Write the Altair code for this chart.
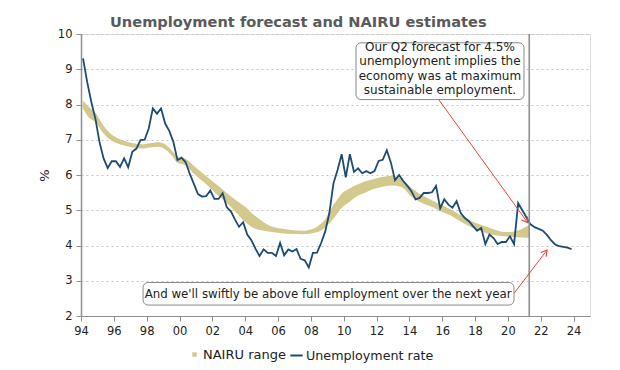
import altair as alt
import pandas as pd

# ---------------- data ----------------
unemployment = [
    9.31, 8.64, 8.08, 7.60, 6.94, 6.47, 6.20, 6.39, 6.39, 6.23,
    6.47, 6.22, 6.66, 6.75, 6.99, 7.00, 7.32, 7.89, 7.74, 7.89,
    7.46, 7.25, 6.94, 6.42, 6.49, 6.36, 6.03, 5.75, 5.46, 5.39,
    5.40, 5.56, 5.32, 5.32, 5.48, 5.09, 4.97, 4.74, 4.53, 4.66,
    4.31, 4.15, 3.91, 3.70, 3.89, 3.79, 3.79, 3.70, 4.07, 3.72,
    3.89, 3.83, 3.90, 3.62, 3.58, 3.38, 3.79, 3.80, 4.07, 4.40,
    4.92, 5.76, 6.14, 6.59, 5.93, 6.59, 6.09, 6.19, 6.05, 6.11,
    6.05, 6.11, 6.40, 6.43, 6.70, 6.35, 5.85, 6.00, 5.83, 5.69,
    5.54, 5.31, 5.35, 5.49, 5.49, 5.51, 5.69, 5.05, 5.31, 5.16,
    5.07, 5.26, 4.92, 4.78, 4.69, 4.55, 4.42, 4.50, 4.04, 4.31,
    4.21, 4.04, 4.10, 4.10, 4.26, 4.04, 5.20, 5.00, 4.80, 4.60,
    4.52, 4.47, 4.42, 4.30, 4.15, 4.03, 3.98, 3.96, 3.94, 3.90,
]

band_year = [
    1994.1, 1994.5, 1994.9, 1995.3, 1995.7, 1996.2, 1996.7, 1997.2, 1997.7, 1998.2,
    1998.7, 1999.1, 1999.5, 1999.9, 2000.35, 2000.9, 2001.6, 2002.2, 2002.8, 2003.4,
    2004.0, 2004.5, 2005.0, 2005.6, 2006.2, 2006.8, 2007.5, 2008.1, 2008.6, 2008.9,
    2009.3, 2009.6, 2009.9, 2010.3, 2010.8, 2011.3, 2011.8, 2012.3, 2012.9, 2013.5,
    2014.2, 2014.8, 2015.4, 2016.0, 2016.6, 2017.2, 2017.8, 2018.4, 2019.0, 2019.8,
    2020.4, 2020.9, 2021.3,
]
band_low = [
    7.90, 7.62, 7.50, 7.22, 7.03, 6.90, 6.83, 6.78, 6.75, 6.78,
    6.80, 6.74, 6.57, 6.34, 6.28, 6.02, 5.75, 5.48, 5.24, 4.96,
    4.67, 4.50, 4.43, 4.38, 4.35, 4.33, 4.32, 4.35, 4.42, 4.52,
    4.72, 4.90, 5.08, 5.22, 5.40, 5.50, 5.60, 5.66, 5.70, 5.66,
    5.36, 5.20, 5.09, 4.95, 4.83, 4.66, 4.51, 4.40, 4.31, 4.26,
    4.24, 4.23, 4.22,
]
band_high = [
    8.12, 7.92, 7.75, 7.45, 7.22, 7.05, 6.96, 6.90, 6.87, 6.90,
    6.93, 6.88, 6.71, 6.52, 6.47, 6.25, 5.98, 5.75, 5.52, 5.30,
    5.10, 4.88, 4.70, 4.54, 4.48, 4.44, 4.42, 4.47, 4.62, 4.76,
    5.10, 5.30, 5.48, 5.60, 5.72, 5.82, 5.88, 5.94, 5.98, 5.90,
    5.60, 5.42, 5.28, 5.14, 5.00, 4.84, 4.69, 4.58, 4.48, 4.38,
    4.40, 4.48, 4.58,
]

x_ticks = list(range(1994, 2025, 2))
y_ticks = list(range(2, 11))

forecast_start = 2021.3

note1_lines = ["Our Q2 forecast for 4.5%", "unemployment implies the",
               "economy was at maximum", "sustainable employment."]
note2_text = "And we'll swiftly be above full employment over the next year"

# ---------------- styles ----------------
FONT = "DejaVu Sans"
NAVY = "#1d4b74"
KHAKI = "#d4c98d"
RED = "#e8463a"
GREY = "#8f8f8f"

periods = pd.period_range("1994Q1", periods=len(unemployment), freq="Q")
t = [p.year + (p.quarter - 1) * 0.25 + 0.125 for p in periods]

line_df = pd.DataFrame({"t": t, "rate": unemployment, "series": "Unemployment rate"})
band_df = pd.DataFrame({"t": band_year, "lo": band_low, "hi": band_high, "series": "NAIRU range"})

x_scale = alt.Scale(domain=[1994, 2025], nice=False, zero=False)
y_scale = alt.Scale(domain=[2, 10], nice=False, zero=False)

x_axis = alt.Axis(values=x_ticks, labelExpr="substring(toString(datum.value), 2, 4)",
                  title=None, grid=False, domainColor=GREY, tickColor=GREY, tickSize=5,
                  labelPadding=4, labelFontSize=11.5, labelColor="#222", labelFont=FONT,
                  labelFlush=False)
y_axis = alt.Axis(values=y_ticks, format="d", title="%", titleFontWeight="normal",
                  titleFontSize=13, titleColor="#222", titleFont=FONT, titlePadding=6,
                  grid=True, gridDash=[2, 3], gridColor="#c4c4c4", domainColor=GREY,
                  domainWidth=1.5, tickColor=GREY, tickSize=5, labelPadding=4,
                  labelFontSize=11.5, labelColor="#222", labelFont=FONT)


def X(field):
    return alt.X(field, type="quantitative", scale=x_scale, axis=x_axis)


def Y(field):
    return alt.Y(field, type="quantitative", scale=y_scale, axis=y_axis)


band = alt.Chart(band_df).mark_area(interpolate="monotone", opacity=1).encode(
    x=X("t"), y=Y("lo"), y2="hi",
    fill=alt.Fill("series:N", scale=alt.Scale(domain=["NAIRU range"], range=[KHAKI]),
                  legend=alt.Legend(orient="none", legendX=107, legendY=314, title=None,
                                    symbolType="square", symbolSize=20, symbolStrokeWidth=0,
                                    symbolFillColor=KHAKI, symbolOpacity=1,
                                    labelFontSize=13, labelFont=FONT, labelColor="#222",
                                    labelOffset=2, padding=0)),
)

line = alt.Chart(line_df).mark_line(strokeWidth=1.8).encode(
    x=X("t"), y=Y("rate"),
    stroke=alt.Stroke("series:N", scale=alt.Scale(domain=["Unemployment rate"], range=[NAVY]),
                      legend=alt.Legend(orient="none", legendX=208, legendY=314, title=None,
                                        symbolType="stroke", symbolSize=150, symbolStrokeWidth=2,
                                        labelFontSize=12.7, labelFont=FONT, labelColor="#222",
                                        labelOffset=2, padding=0)),
)

vline = alt.Chart(pd.DataFrame({"t": [forecast_start]})).mark_rule(
    color=GREY, strokeWidth=1.6).encode(x=X("t"))

arrows_df = pd.DataFrame({
    "x1": [2015.8, 2020.37], "y1": [8.13, 2.64],
    "x2": [2021.2, 2022.38], "y2": [4.65, 3.87],
    "angle": [144.1, 37.3],
})
arrow_lines = alt.Chart(arrows_df).mark_rule(color=RED, strokeWidth=1).encode(
    x=X("x1"), y=Y("y1"), x2="x2", y2="y2")
arrow_heads = alt.Chart(arrows_df).mark_point(
    shape="M -0.6 1 L 0 0 L 0.6 1", filled=False, stroke=RED, strokeWidth=1.1, size=130,
    opacity=1).encode(x=X("x2"), y=Y("y2"), angle=alt.Angle("angle:Q", scale=None))

boxes_df = pd.DataFrame({
    "x1": [2010.75, 1997.78], "x2": [2020.98, 2020.37],
    "y1": [8.14, 2.31], "y2": [9.75, 2.95],
})
boxes = alt.Chart(boxes_df).mark_rect(
    fill="white", stroke="#8a8a8a", strokeWidth=1, cornerRadius=5).encode(
    x=X("x1"), x2="x2", y=Y("y1"), y2="y2")

note1_df = pd.DataFrame({"label": note1_lines, "x": [2015.86] * 4,
                         "y": [9.62, 9.22, 8.82, 8.41]})
note1 = alt.Chart(note1_df).mark_text(font=FONT, fontSize=12, color="#222",
                                      baseline="middle", align="center").encode(
    x=X("x"), y=Y("y"), text="label:N")

note2_df = pd.DataFrame({"label": [note2_text], "x": [2009.05], "y": [2.63]})
note2 = alt.Chart(note2_df).mark_text(font=FONT, fontSize=11.8, color="#222",
                                      baseline="middle", align="center").encode(
    x=X("x"), y=Y("y"), text="label:N")

chart = alt.layer(
    band, line, vline, arrow_lines, arrow_heads, boxes, note1, note2
).resolve_scale(fill="independent", stroke="independent").properties(
    width=509, height=282,
    padding={"left": 30, "top": 7, "right": 5, "bottom": 5},
    title=alt.TitleParams("Unemployment forecast and NAIRU estimates", anchor="start",
                          frame="group", dx=29, fontSize=14.6, font=FONT, fontWeight="bold",
                          color="#5a5a5a", offset=-2),
).configure_view(stroke=None).configure(font=FONT)

chart.save("out.html", embed_options={"renderer": "svg", "actions": False})
